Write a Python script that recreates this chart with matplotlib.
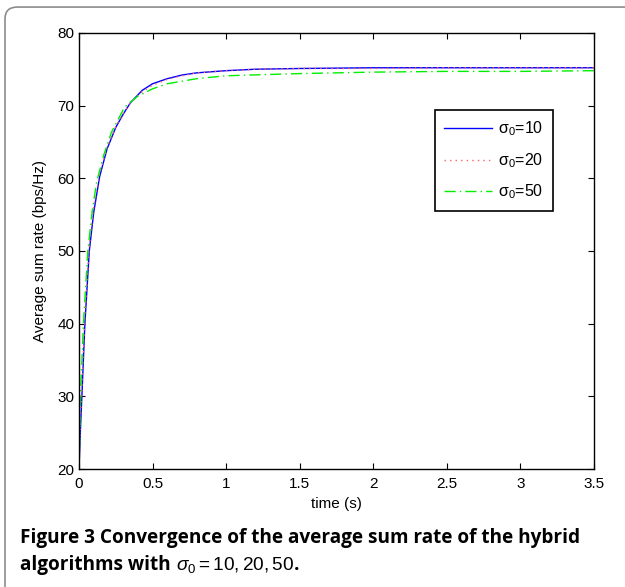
import matplotlib
matplotlib.use("Agg")
import matplotlib.pyplot as plt
from matplotlib.patches import FancyBboxPatch

plt.rcParams['font.family'] = ['Liberation Sans', 'DejaVu Sans']
plt.rcParams['mathtext.fontset'] = 'custom'
plt.rcParams['mathtext.rm'] = 'Liberation Sans'
plt.rcParams['mathtext.it'] = 'Liberation Sans:italic'

# blue, sigma_0 = 10
t_10 = [0, 0.01, 0.02, 0.04, 0.07, 0.1, 0.14, 0.19, 0.25, 0.3, 0.35, 0.43, 0.5, 0.6, 0.7, 0.8,
        1.0, 1.2, 1.5, 2.0, 2.5, 3.0, 3.5]
rate_10 = [20, 25.5, 30.2, 40, 50, 55.3, 60.2, 64, 67, 68.8, 70.4, 72.1, 73.0, 73.7, 74.2, 74.5,
           74.8, 75.0, 75.1, 75.2, 75.2, 75.2, 75.2]
# red, sigma_0 = 20
t_20 = [0, 0.01, 0.02, 0.04, 0.07, 0.1, 0.14, 0.19, 0.25, 0.3, 0.35, 0.43, 0.5, 0.6, 0.7, 0.8,
        1.0, 1.2, 1.5, 2.0, 2.5, 3.0, 3.5]
rate_20 = [20, 27, 31.5, 41, 50.8, 56, 60.6, 64.2, 67.1, 68.9, 70.4, 71.9, 72.8, 73.6, 74.1, 74.5,
           74.8, 75.0, 75.1, 75.1, 75.2, 75.2, 75.2]
# green, sigma_0 = 50
t_50 = [0, 0.01, 0.03, 0.06, 0.09, 0.12, 0.17, 0.22, 0.31, 0.4, 0.5, 0.6, 0.8, 1.0, 1.5, 2.0,
        2.5, 3.0, 3.5]
rate_50 = [20, 30, 40, 50, 55.5, 59.5, 63.3, 66.3, 69.8, 71.3, 72.3, 73.0, 73.7, 74.1, 74.4, 74.6,
           74.7, 74.7, 74.8]

labels = [r'σ$_0$=10', r'σ$_0$=20', r'σ$_0$=50']

fig = plt.figure(figsize=(6.25, 5.87), dpi=100)

# rounded panel border (cut at right / bottom like the page)
frame = FancyBboxPatch((0.008, -0.05), 1.2, 1.038, boxstyle="round,pad=0,rounding_size=0.02",
                       transform=fig.transFigure, fill=False, edgecolor='#8c8c8c', lw=1.2)
fig.patches.append(frame)

ax = fig.add_axes([0.1264, 0.201, 0.824, 0.743])
ax.plot(t_10, rate_10, color='#0000ff', lw=1.0, label=labels[0])
ax.plot(t_20, rate_20, color='#ff6060', lw=1.0, ls=(0, (1, 3)), label=labels[1])
ax.plot(t_50, rate_50, color='#00ee00', lw=1.0, ls=(0, (8, 3, 1, 3)), label=labels[2])

ax.set_xlim(0, 3.5)
ax.set_ylim(20, 80)
ax.set_xticks([0, 0.5, 1, 1.5, 2, 2.5, 3, 3.5])
ax.set_xticklabels(['0', '0.5', '1', '1.5', '2', '2.5', '3', '3.5'])
ax.set_yticks(range(20, 81, 10))
ax.tick_params(direction='in', top=True, right=True, length=4, width=0.8, labelsize=11)
ax.tick_params(axis='x', pad=6)
for s in ax.spines.values():
    s.set_linewidth(1.0)
ax.set_xlabel('time (s)', fontsize=11, labelpad=4)
ax.set_ylabel('Average sum rate (bps/Hz)', fontsize=11, labelpad=7)

leg = ax.legend(loc='upper left', bbox_to_anchor=(0.691, 0.823), borderaxespad=0,
                fontsize=11.5, handlelength=3.0, handletextpad=0.35, labelspacing=0.8,
                fancybox=False, framealpha=1, edgecolor='black', borderpad=0.6)
leg.get_frame().set_linewidth(1.2)

cap_font = ['Open Sans', 'DejaVu Sans']
fig.text(0.032, 0.075, 'Figure 3 Convergence of the average sum rate of the hybrid',
         fontsize=13.7, fontweight='bold', family=cap_font)
t2 = fig.text(0.032, 0.029, 'algorithms with ', fontsize=13.7, fontweight='bold', family=cap_font)
t3 = ax.annotate(r'$\sigma_0 = 10, 20, 50$', xy=(1, 0), xycoords=t2, va='bottom', ha='left',
                 fontsize=13.7, annotation_clip=False)
ax.annotate('.', xy=(1, 0), xycoords=t3, va='bottom', ha='left', fontsize=13.7,
            fontweight='bold', family=cap_font, annotation_clip=False)

fig.savefig('out.png', dpi=100)
